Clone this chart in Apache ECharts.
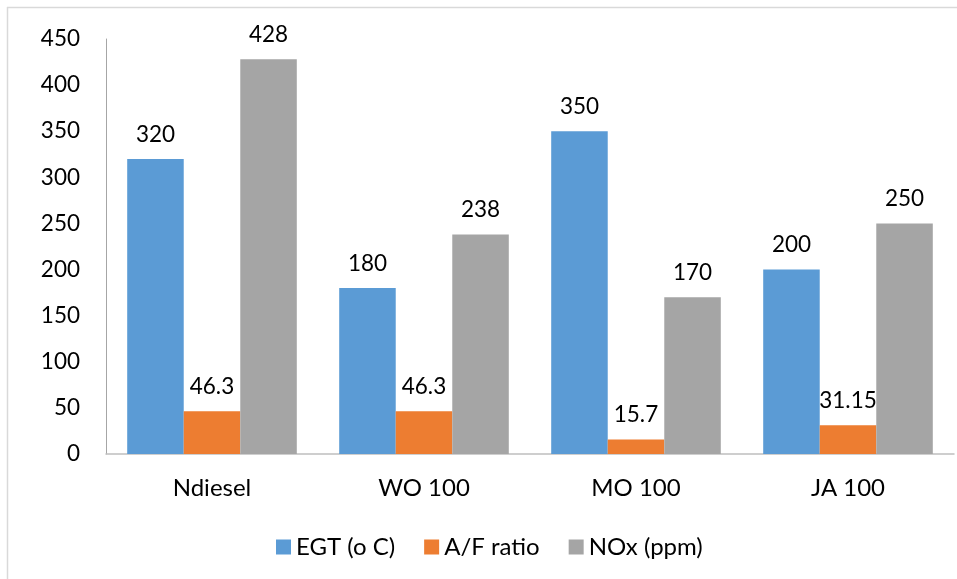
<!DOCTYPE html>
<html>
<head>
<meta charset="utf-8">
<script src="https://cdn.jsdelivr.net/npm/echarts@6/dist/echarts.min.js"></script>
<style>
  html, body { margin: 0; padding: 0; background: #fff; }
  #chart { width: 957px; height: 579px; }
</style>
</head>
<body>
<div id="chart"></div>
<script>
// Engine test results per fuel
const categories = ['Ndiesel', 'WO 100', 'MO 100', 'JA 100'];
const egt = [320, 180, 350, 200];
const afRatio = [46.3, 46.3, 15.7, 31.15];
const nox = [428, 238, 170, 250];
const seriesNames = ['EGT (o C)', 'A/F ratio', 'NOx (ppm)'];
const colors = ['#5b9bd5', '#ed7d31', '#a5a5a5'];

const FONT = 'Lato';
const NUM_SIZE = 22.5;
const TEXT_SIZE = 24;
const chart = echarts.init(document.getElementById('chart'));

function barSeries(name, data, color) {
  return {
    name: name,
    type: 'bar',
    data: data,
    barGap: '0%',
    barCategoryGap: '20%',
    itemStyle: { color: color },
    label: {
      show: true,
      position: 'top',
      distance: 13,
      color: '#000',
      fontFamily: FONT,
      fontSize: NUM_SIZE
    }
  };
}

chart.setOption({
  animation: false,
  backgroundColor: '#fff',
  textStyle: { fontFamily: FONT },
  graphic: [
    { type: 'line', shape: { x1: 7, y1: 7.5, x2: 957, y2: 7.5 }, style: { stroke: '#d9d9d9', lineWidth: 1.5 } },
    { type: 'line', shape: { x1: 7.5, y1: 7, x2: 7.5, y2: 579 }, style: { stroke: '#d9d9d9', lineWidth: 1.5 } }
  ],
  grid: { left: 106, right: 3, top: 39, bottom: 125, containLabel: false },
  legend: {
    left: 271,
    top: 530,
    itemWidth: 15,
    itemHeight: 15,
    itemGap: 29,
    icon: 'rect',
    textStyle: { fontFamily: FONT, fontSize: TEXT_SIZE, color: '#000' },
    data: seriesNames
  },
  xAxis: {
    type: 'category',
    data: categories,
    axisLine: { lineStyle: { color: '#bfbfbf', width: 1.5 } },
    axisTick: { show: false },
    axisLabel: { color: '#000', fontFamily: FONT, fontSize: TEXT_SIZE, margin: 22 }
  },
  yAxis: {
    type: 'value',
    min: 0,
    max: 450,
    interval: 50,
    axisLine: { show: true, lineStyle: { color: '#a6a6a6', width: 1 } },
    axisTick: { show: false },
    splitLine: { show: false },
    axisLabel: { color: '#000', fontFamily: FONT, fontSize: NUM_SIZE, margin: 26 }
  },
  series: [
    barSeries(seriesNames[0], egt, colors[0]),
    barSeries(seriesNames[1], afRatio, colors[1]),
    barSeries(seriesNames[2], nox, colors[2])
  ]
});
</script>
</body>
</html>
